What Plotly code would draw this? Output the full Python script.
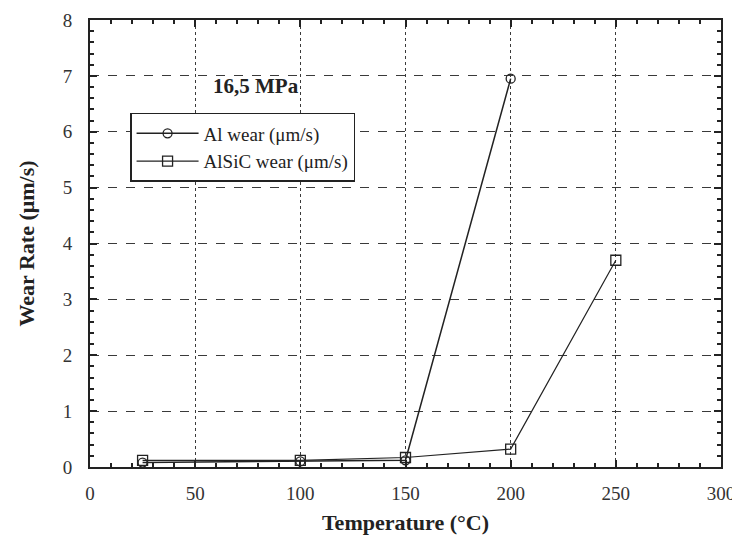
import plotly.graph_objects as go

temp_al = [25, 100, 150, 200]
wear_al = [0.08, 0.10, 0.12, 6.95]
temp_alsic = [25, 100, 150, 200, 250]
wear_alsic = [0.12, 0.12, 0.17, 0.32, 3.70]

x_ticks = [0, 50, 100, 150, 200, 250, 300]
y_ticks = [0, 1, 2, 3, 4, 5, 6, 7, 8]

font = "Liberation Serif"
ink = "#222222"

fig = go.Figure()
fig.add_trace(go.Scatter(
    x=temp_al, y=wear_al, mode="lines+markers", name="Al wear (μm/s)",
    line=dict(color=ink, width=1.5),
    marker=dict(symbol="circle-open", size=9, color=ink, line=dict(width=1.3)),
))
fig.add_trace(go.Scatter(
    x=temp_alsic, y=wear_alsic, mode="lines+markers", name="AlSiC wear (μm/s)",
    line=dict(color=ink, width=1.2),
    marker=dict(symbol="square-open", size=10, color=ink, line=dict(width=1.3)),
))

fig.add_annotation(x=79, y=6.82, text="<b>16,5 MPa</b>", showarrow=False,
                   font=dict(family=font, size=21, color=ink))

axis_common = dict(
    showline=True, linecolor=ink, linewidth=2, mirror="allticks",
    ticks="inside", ticklen=7, tickwidth=1.5, tickcolor=ink,
    gridcolor="#3a3a3a", gridwidth=1.2, zeroline=False, automargin=False,
    tickfont=dict(family=font, size=19, color="#333333"),
)

# page body has an 8px default margin, so the figure is sized to fit the window
fig.update_layout(
    width=732, height=529,
    margin=dict(l=82, r=19, t=12, b=70),
    paper_bgcolor="white", plot_bgcolor="white",
    showlegend=True,
    legend=dict(x=0.0635, y=0.792, xanchor="left", yanchor="top",
                bordercolor=ink, borderwidth=1.5, bgcolor="white",
                font=dict(family=font, size=19, color=ink),
                tracegroupgap=0, itemwidth=62),
    xaxis=dict(range=[0, 300], tickvals=x_ticks, griddash="dot",
               minor=dict(dtick=10, ticks="inside", ticklen=4, tickcolor=ink, showgrid=False),
               ticklabelstandoff=8,
               title=dict(text="<b>Temperature (°C)</b>", font=dict(family=font, size=22, color=ink), standoff=12),
               **axis_common),
    yaxis=dict(range=[0, 8], tickvals=y_ticks, griddash="dash",
               minor=dict(dtick=0.2, ticks="inside", ticklen=4, tickcolor=ink, showgrid=False),
               ticklabelstandoff=12,
               title=dict(text="<b>Wear Rate (μm/s)</b>", font=dict(family=font, size=22, color=ink), standoff=22),
               **axis_common),
)

fig.write_html("out.html")
